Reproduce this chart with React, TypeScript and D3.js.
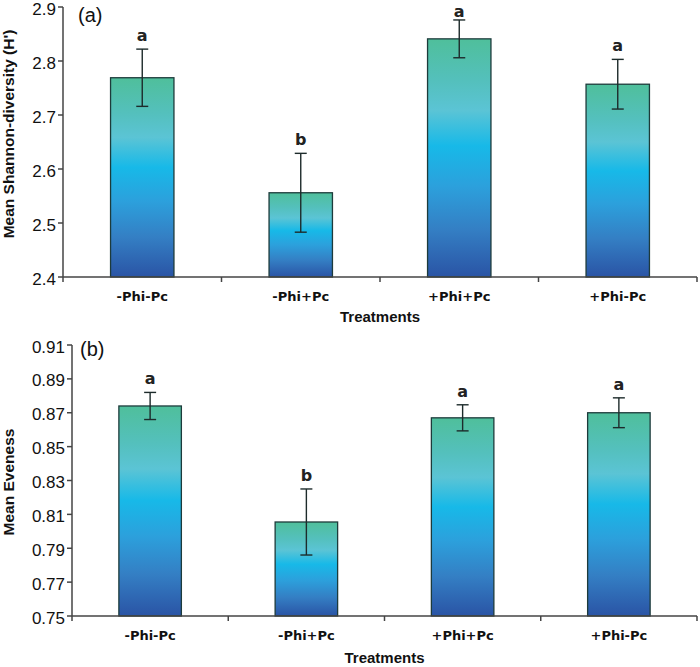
import React from "react";
import * as d3 from "d3";

const categories = ["-Phi-Pc", "-Phi+Pc", "+Phi+Pc", "+Phi-Pc"];
const shannonMean = [2.769, 2.556, 2.841, 2.757];
const shannonSE = [0.053, 0.073, 0.035, 0.046];
const shannonLetters = ["a", "b", "a", "a"];
const shannonTicks = [2.4, 2.5, 2.6, 2.7, 2.8, 2.9];
const evenMean = [0.874, 0.8055, 0.867, 0.87];
const evenSE = [0.008, 0.0195, 0.0077, 0.0088];
const evenLetters = ["a", "b", "a", "a"];
const evenTicks = [0.75, 0.77, 0.79, 0.81, 0.83, 0.85, 0.87, 0.89, 0.91];

const AXIS = "#444";

type PanelProps = {
  x0: number; x1: number; y0: number; y1: number;
  domain: [number, number]; ticks: number[]; fmt: (v: number) => string;
  means: number[]; se: number[]; letters: string[];
  ytitle: string; ytitleX: number; ytitleY: number;
  tag: string; tagX: number; tagY: number;
  catY: number; xtitleY: number;
};

function Panel(p: PanelProps) {
  const x = d3.scaleBand<string>().domain(categories).range([p.x0, p.x1]).paddingInner(0.6).paddingOuter(0.3);
  const y = d3.scaleLinear().domain(p.domain).range([p.y1, p.y0]);
  const step = x.step();
  const bounds = d3.range(categories.length + 1).map((i) => p.x0 + i * step);
  return (
    <g>
      {categories.map((c, i) => {
        const bx = x(c)!;
        const bw = x.bandwidth();
        const cx = bx + bw / 2;
        const top = y(p.means[i]);
        const eTop = y(p.means[i] + p.se[i]);
        const eBot = y(p.means[i] - p.se[i]);
        return (
          <g key={c}>
            <rect x={bx} y={top} width={bw} height={y(p.domain[0]) - top} fill="url(#barGrad)" stroke="#1d3b3b" strokeWidth={1.3} />
            <line x1={cx} x2={cx} y1={eTop} y2={eBot} stroke="#1d2b2b" strokeWidth={1.4} />
            <line x1={cx - 6} x2={cx + 6} y1={eTop} y2={eTop} stroke="#1d2b2b" strokeWidth={1.4} />
            <line x1={cx - 6} x2={cx + 6} y1={eBot} y2={eBot} stroke="#1d2b2b" strokeWidth={1.4} />
            <text x={cx} y={Math.max(eTop - 8, 17)} textAnchor="middle" fontFamily="DejaVu Sans" fontWeight="bold" fontSize={16} fill="#222">{p.letters[i]}</text>
            <text x={cx} y={p.catY} textAnchor="middle" dominantBaseline="middle" fontFamily="DejaVu Sans" fontWeight="bold" fontSize={13} fill="#111">{c}</text>
          </g>
        );
      })}
      {/* y axis */}
      <line x1={p.x0} x2={p.x0} y1={p.y0} y2={p.y1} stroke={AXIS} strokeWidth={1.5} />
      {p.ticks.map((t) => (
        <g key={t}>
          <line x1={p.x0 - 5} x2={p.x0} y1={y(t)} y2={y(t)} stroke={AXIS} strokeWidth={1.5} />
          <text x={p.x0 - 7} y={y(t) + 2} textAnchor="end" dominantBaseline="central" fontFamily="Liberation Sans, Arial" fontSize={17} fill="#111">{p.fmt(t)}</text>
        </g>
      ))}
      {/* x axis */}
      <line x1={p.x0} x2={p.x1} y1={p.y1} y2={p.y1} stroke={AXIS} strokeWidth={1.5} />
      {bounds.map((b, i) => (
        <line key={i} x1={b} x2={b} y1={p.y1} y2={p.y1 + 5} stroke={AXIS} strokeWidth={1.5} />
      ))}
      <text x={(p.x0 + p.x1) / 2} y={p.xtitleY} textAnchor="middle" dominantBaseline="middle" fontFamily="Liberation Sans, Arial" fontWeight="bold" fontSize={15} fill="#111">Treatments</text>
      <text transform={`translate(${p.ytitleX},${p.ytitleY}) rotate(-90)`} textAnchor="middle" dominantBaseline="middle" fontFamily="Liberation Sans, Arial" fontWeight="bold" fontSize={15.5} fill="#111">{p.ytitle}</text>
      <text x={p.tagX} y={p.tagY} dominantBaseline="middle" fontFamily="Liberation Sans, Arial" fontSize={20} fill="#111">{p.tag}</text>
    </g>
  );
}

export default function App() {
  return (
    <svg width={700} height={667} style={{ position: "absolute", left: 0, top: 0, background: "#fff" }}>
      <defs>
        <linearGradient id="barGrad" x1="0" y1="0" x2="0" y2="1">
          <stop offset="0%" stopColor="#4fbf9b" />
          <stop offset="18%" stopColor="#54c0bd" />
          <stop offset="30%" stopColor="#5bc4d5" />
          <stop offset="45%" stopColor="#17b9e8" />
          <stop offset="62%" stopColor="#2ca0dc" />
          <stop offset="80%" stopColor="#347fc4" />
          <stop offset="100%" stopColor="#2a54a5" />
        </linearGradient>
      </defs>
      <Panel x0={63} x1={697} y0={7} y1={277} domain={[2.4, 2.9]} ticks={shannonTicks} fmt={d3.format(".1f")}
        means={shannonMean} se={shannonSE} letters={shannonLetters}
        ytitle="Mean Shannon-diversity (H')" ytitleX={10} ytitleY={134}
        tag="(a)" tagX={78} tagY={17} catY={297} xtitleY={318} />
      <Panel x0={72} x1={697} y0={345} y1={616} domain={[0.75, 0.91]} ticks={evenTicks} fmt={d3.format(".2f")}
        means={evenMean} se={evenSE} letters={evenLetters}
        ytitle="Mean Eveness" ytitleX={10} ytitleY={482}
        tag="(b)" tagX={80} tagY={351} catY={636} xtitleY={659} />
    </svg>
  );
}
